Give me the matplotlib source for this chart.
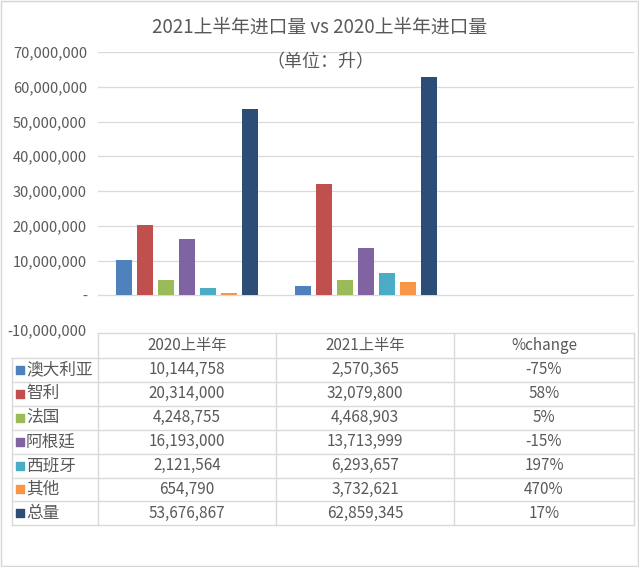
import numpy as np
import matplotlib.pyplot as plt
from matplotlib.patches import Rectangle
from matplotlib.ticker import FuncFormatter

plt.rcParams['font.family'] = ['Noto Sans CJK SC', 'DejaVu Sans']

# data
periods = ['2020上半年', '2021上半年', '%change']
countries = ['澳大利亚', '智利', '法国', '阿根廷', '西班牙', '其他', '总量']
vol_2020 = [10144758, 20314000, 4248755, 16193000, 2121564, 654790, 53676867]
vol_2021 = [2570365, 32079800, 4468903, 13713999, 6293657, 3732621, 62859345]
pct_change = ['-75%', '58%', '5%', '-15%', '197%', '470%', '17%']
colors = ['#4F81BD', '#C0504D', '#9BBB59', '#8064A2', '#4BACC6', '#F79646', '#2C4D75']

txt = '#595959'
grid = '#d9d9d9'
W, H = 639, 567

fig = plt.figure(figsize=(W / 100, H / 100), dpi=100)
fig.patch.set_facecolor('white')

# bar chart
ax = fig.add_axes([98 / W, 1 - 330 / H, 536 / W, 278 / H])
x = np.arange(len(periods)) + 0.5
pitch, bw = 0.1175, 0.09
for i, c in enumerate(countries):
    vals = [vol_2020[i], vol_2021[i]]
    ax.bar(x[:2] + (i - 3) * pitch, vals, width=bw, color=colors[i], zorder=3)

ax.set_xlim(0, 3)
ax.set_ylim(-10000000, 70000000)
ax.set_yticks(np.arange(-10000000, 70000001, 10000000))
ax.yaxis.set_major_formatter(FuncFormatter(lambda v, p: '-' if v == 0 else f'{v:,.0f}'))
ax.set_xticks([])
ax.grid(axis='y', color=grid, lw=0.9, zorder=0)
for s in ax.spines.values():
    s.set_visible(False)
ax.tick_params(axis='y', length=0, pad=8, labelsize=10.5, labelcolor=txt)

fig.text(320 / W, 1 - 27 / H, '2021上半年进口量 vs 2020上半年进口量',
         ha='center', va='center', fontsize=13.5, color=txt)
fig.text(320 / W, 1 - 62 / H, '（单位：升）', ha='center', va='center',
         fontsize=13, color=txt)

# data table under the chart
tab = fig.add_axes([0, 0, 1, 1])
tab.set_xlim(0, W)
tab.set_ylim(H, 0)
tab.axis('off')
tab.patch.set_alpha(0)

col_x = [98, 276, 454, 634]
left_x = 12
top, head_bot, rh = 333, 358, 23.9
bot = head_bot + rh * len(countries)

tab.plot([col_x[0], col_x[-1]], [top, top], color=grid, lw=1)
for k in range(len(countries) + 1):
    y = head_bot + k * rh
    tab.plot([left_x, col_x[-1]], [y, y], color=grid, lw=1)
tab.plot([left_x, left_x], [head_bot, bot], color=grid, lw=1)
for cx in col_x:
    tab.plot([cx, cx], [top, bot], color=grid, lw=1)

for j, p in enumerate(periods):
    tab.text((col_x[j] + col_x[j + 1]) / 2, (top + head_bot) / 2, p,
             ha='center', va='center', fontsize=11, color=txt)

for i, c in enumerate(countries):
    yc = head_bot + (i + 0.5) * rh
    tab.scatter(20, yc, marker='s', s=30, color=colors[i], zorder=3)
    tab.text(26, yc, c, ha='left', va='center', fontsize=12, color=txt)
    cells = [f'{vol_2020[i]:,}', f'{vol_2021[i]:,}', pct_change[i]]
    for j, v in enumerate(cells):
        tab.text((col_x[j] + col_x[j + 1]) / 2, yc, v, ha='center', va='center',
                 fontsize=11, color=txt)

tab.add_patch(Rectangle((1, 1), W - 2, H - 2, fill=False, ec='#d6d6d6', lw=1))

fig.savefig('out.png', dpi=100)
